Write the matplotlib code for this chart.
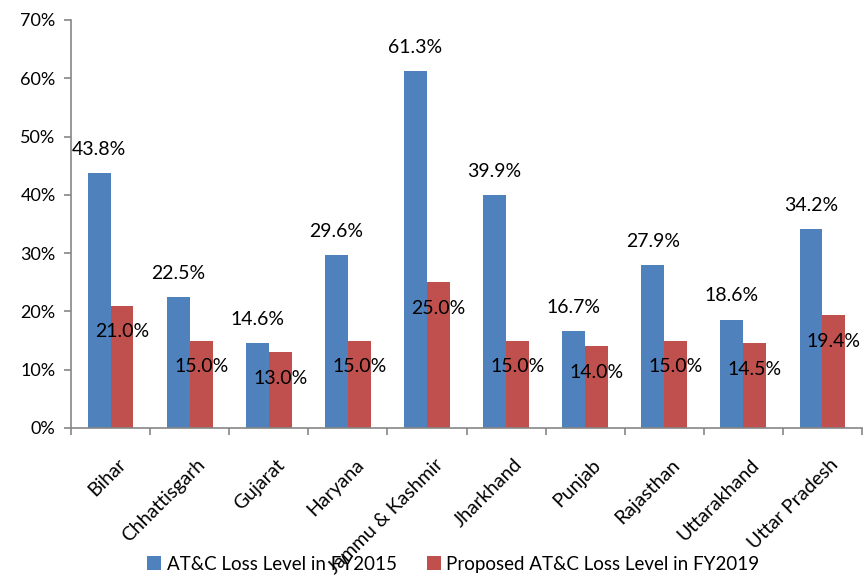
import matplotlib
matplotlib.use("Agg")
import matplotlib.pyplot as plt
import matplotlib.transforms as mtransforms
import numpy as np

categories = ["Bihar", "Chhattisgarh", "Gujarat", "Haryana", "Jammu & Kashmir",
              "Jharkhand", "Punjab", "Rajasthan", "Uttarakhand", "Uttar Pradesh"]
fy2015 = [43.8, 22.5, 14.6, 29.6, 61.3, 39.9, 16.7, 27.9, 18.6, 34.2]
fy2019 = [21.0, 15.0, 13.0, 15.0, 25.0, 15.0, 14.0, 15.0, 14.5, 19.4]
series_names = ["AT&C Loss Level in FY2015", "Proposed AT&C Loss Level in FY2019"]
yticks = [0, 10, 20, 30, 40, 50, 60, 70]

plt.rcParams['font.family'] = ['Lato', 'DejaVu Sans']
blue = "#4F81BD"
red = "#C0504D"
axis_col = "#868686"

fig = plt.figure(figsize=(8.63, 5.77), dpi=100)
ax = fig.add_axes([71/863, (577-428)/577, (862-71)/863, 408/577])

x = np.arange(len(categories))
w = 0.29
b1 = ax.bar(x - w/2, fy2015, w, color=blue, label=series_names[0])
b2 = ax.bar(x + w/2, fy2019, w, color=red, label=series_names[1])

for xi, v in zip(x, fy2015):
    ax.annotate(f"{v:.1f}%", (xi - w/2, v), xytext=(0, 17), textcoords="offset points",
                ha="center", va="center", fontsize=14, color="black")
for xi, v in zip(x, fy2019):
    ax.annotate(f"{v:.1f}%", (xi + w/2, v), xytext=(0, -19), textcoords="offset points",
                ha="center", va="center", fontsize=14, color="black")

ax.set_xlim(-0.5, len(categories) - 0.5)
ax.set_ylim(0, 70)
ax.set_yticks(yticks)
ax.set_yticklabels([f"{t}%" for t in yticks], fontsize=13)
ax.set_xticks(np.arange(len(categories) + 1) - 0.5)
ax.set_xticklabels([])
ax.set_xticks(x, minor=True)
ax.set_xticklabels(categories, minor=True, rotation=45, ha="right", va="top",
                   rotation_mode="anchor", fontsize=14)
ax.tick_params(axis="x", which="minor", length=0, pad=20)
ax.tick_params(axis="x", which="major", length=5, width=1.2, color=axis_col, direction="out")
ax.tick_params(axis="y", length=5, width=1.2, color=axis_col, direction="out", pad=6)
for side in ["top", "right"]:
    ax.spines[side].set_visible(False)
for side in ["left", "bottom"]:
    ax.spines[side].set_color(axis_col)
    ax.spines[side].set_linewidth(1.2)

offset = mtransforms.ScaledTranslation(5/72, 0, fig.dpi_scale_trans)
for lbl in ax.xaxis.get_minorticklabels():
    lbl.set_transform(lbl.get_transform() + offset)

leg = fig.legend(handles=[b1, b2], labels=series_names, loc="lower center",
                 bbox_to_anchor=(0.525, -0.022), ncol=2, frameon=False, fontsize=13.5,
                 handlelength=0.75, handleheight=0.75, handletextpad=0.3, columnspacing=1.6)

fig.savefig("out.png", dpi=100, facecolor="white")
